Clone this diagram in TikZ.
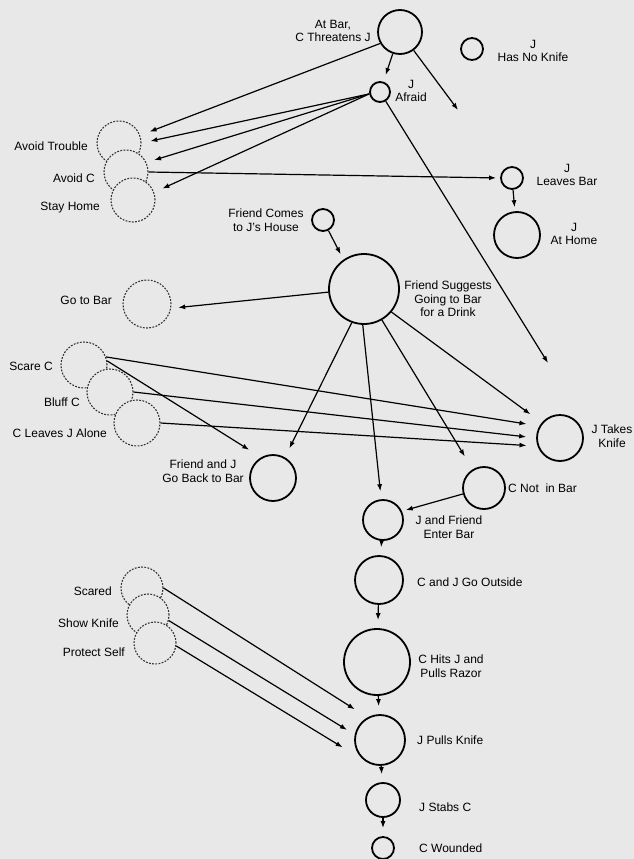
\documentclass[tikz,border=0pt]{standalone}
\usepackage{fontspec}
\setmainfont{Liberation Sans}
\usepackage{tikz}
\usetikzlibrary{arrows.meta, calc}
\definecolor{paper}{gray}{0.91}

\begin{document}
\begin{tikzpicture}[x=1pt, y=-1pt,
  ev/.style={circle, draw, line width=1.8pt, fill=paper, inner sep=0pt},
  wish/.style={circle, draw=black!80, line width=1.1pt, dash pattern=on 1.8pt off 1.4pt, fill=paper, inner sep=0pt},
  lbl/.style={font=\fontsize{12}{13.5}\selectfont, inner sep=0pt, align=center},
  arr/.style={-{Latex[length=7pt,width=5pt]}, line width=1.2pt}]
\fill[paper] (0,0) rectangle (634,859);
\useasboundingbox (0,0) rectangle (634,859);
\foreach \n/\x/\y/\r in {atbar/400/32/22, noknife/472/49/11, afraid/380/92/10, leaves/512/178/11,
  athome/517/235/23, comes/323/220/11, suggests/364/289/35, jtk/560/438/23, goback/273/478/23,
  notinbar/484/488/21, enter/383/520/20, outside/379/580/24, hits/377/662/33, pulls/380/740/25,
  stabs/383/800/17, wounded/383/848/11}
  \node[ev, minimum size=2*\r*1pt] (\n) at (\x,\y) {};
\foreach \n/\x/\y/\r in {avtrouble/119/143/22, avoidc/126/172/22, stayhome/133/200/22, gobar/147/304/24,
  scare/84/365/23, bluff/110/392/23, alone/137/423/23, scared/142/588/21, showknife/148/615/21,
  protect/155/643/21}
  \node[wish, minimum size=2*\r*1pt] (\n) at (\x,\y) {};
\coordinate (atbarEnd) at (458,110);
\coordinate (afraidEnd) at (548,363);
\path
(333,31) node[lbl] (lAtBar) {At Bar,\\C Threatens J}
(533,51) node[lbl] (lNoKnife) {J\\Has No Knife}
(411,91) node[lbl] (lAfraid) {J\\Afraid}
(88,146) node[lbl, anchor=east] (lAvTrouble) {Avoid Trouble}
(95,178) node[lbl, anchor=east] (lAvoidC) {Avoid C}
(100,208) node[lbl, anchor=east] (lStayHome) {Stay Home}
(567,175) node[lbl] (lLeaves) {J\\Leaves Bar}
(574,234) node[lbl] (lAtHome) {J\\At Home}
(266,220) node[lbl] (lComes) {Friend Comes\\to J's House}
(448,299) node[lbl] (lSuggests) {Friend Suggests\\Going to Bar\\for a Drink}
(112,300) node[lbl, anchor=east] (lGoBar) {Go to Bar}
(53,366) node[lbl, anchor=east] (lScare) {Scare C}
(80,402) node[lbl, anchor=east] (lBluff) {Bluff C}
(107,433) node[lbl, anchor=east] (lAlone) {C Leaves J Alone}
(203,471) node[lbl] (lGoBack) {Friend and J\\Go Back to Bar}
(612,436) node[lbl] (lJtk) {J Takes\\Knife}
(508,488) node[lbl, anchor=west] (lNotInBar) {C Not~ in Bar}
(449,527) node[lbl] (lEnter) {J and Friend\\Enter Bar}
(417,582) node[lbl, anchor=west] (lOutside) {C and J Go Outside}
(112,591) node[lbl, anchor=east] (lScared) {Scared}
(119,623) node[lbl, anchor=east] (lShowKnife) {Show Knife}
(125,652) node[lbl, anchor=east] (lProtect) {Protect Self}
(451,666) node[lbl] (lHits) {C Hits J and\\Pulls Razor}
(417,740) node[lbl, anchor=west] (lPulls) {J Pulls Knife}
(419,807) node[lbl, anchor=west] (lStabs) {J Stabs C}
(419,848) node[lbl, anchor=west] (lWounded) {C Wounded};
\draw[arr, shorten >=7pt] (atbar) -- (afraid);
\draw[arr] (atbar) -- (atbarEnd);
\draw[arr, shorten >=10pt] (atbar.210) -- (avtrouble.20);
\draw[arr, shorten >=9pt] (afraid.190) -- (avtrouble.east);
\draw[arr, shorten >=8pt] (afraid.190) -- (avoidc.25);
\draw[arr, shorten >=9pt] (afraid.190) -- (stayhome.20);
\draw[arr] (afraid) -- (afraidEnd);
\draw[arr, shorten >=4pt] (avoidc.east) -- (leaves.west);
\draw[arr, shorten >=4pt] (leaves) -- (athome);
\draw[arr, shorten >=6pt] (comes) -- (suggests.125);
\draw[arr, shorten >=7pt] (suggests.185) -- (gobar.-10);
\draw[arr, shorten >=14pt] (suggests.-40) -- (jtk.140);
\draw[arr, shorten >=10pt] (suggests.-110) -- (goback.60);
\draw[arr, shorten >=8pt] (suggests.-92) -- (enter.95);
\draw[arr, shorten >=15pt] (suggests.-60) -- (notinbar);
\draw[arr, shorten >=4pt] (notinbar) -- (enter.25);
\draw[arr, shorten >=13pt] (scare.20) -- (jtk.150);
\draw[arr, shorten >=14pt] (scare.10) -- (goback.120);
\draw[arr, shorten >=10pt] (bluff.east) -- (jtk.west);
\draw[arr, shorten >=11pt] (alone.east) -- (jtk.-160);
\draw[arr, shorten >=15pt] (scared.east) -- (pulls.119);
\draw[arr, shorten >=9pt] (showknife.-15) -- (pulls.168);
\draw[arr, shorten >=25pt] (protect.-8) -- (pulls.-128);
\foreach \a/\b in {enter/outside, outside/hits, hits/pulls, pulls/stabs, stabs/wounded}
  \draw[arr, shorten >=8pt] (\a) -- (\b);
\end{tikzpicture}
\end{document}
